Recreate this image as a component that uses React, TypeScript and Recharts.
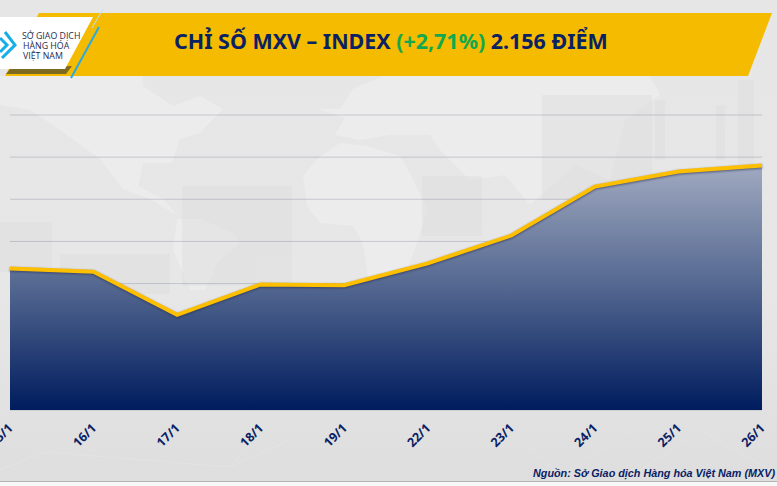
import React from "react";
import { AreaChart, Area, XAxis, YAxis, CartesianGrid } from "recharts";

const dates = ["15/1", "16/1", "17/1", "18/1", "19/1", "22/1", "23/1", "24/1", "25/1", "26/1"];
const index = [2034, 2030, 1979, 2015, 2014, 2040, 2073, 2131, 2149, 2156];
const gridTicks = [1866, 1916, 1966, 2016, 2066, 2116, 2166, 2216];
const data = dates.map((d, i) => ({ d, v: index[i] }));

const NAVY = "#0a2164";
const YELLOW = "#f4bb00";
const LINE = "#fdbf00";
const LAND = "#ececec";

const Backdrop = () => (
  <svg width={777} height={486} style={{ position: "absolute", left: 0, top: 0 }}>
    <defs>
      <linearGradient id="bg" x1="0" y1="0" x2="0" y2="1">
        <stop offset="0" stopColor="#e6e6e6" />
        <stop offset="0.6" stopColor="#e7e7e7" />
        <stop offset="1" stopColor="#dedede" />
      </linearGradient>
    </defs>
    <rect width={777} height={481} fill="url(#bg)" />
    <rect y={481} width={777} height={1} fill="#b5b5b5" />
    <rect y={482} width={777} height={4} fill="#f7f7f7" />
    {/* faint world map: land is lighter than the sea */}
    <g fill={LAND}>
      <path d="M0 76 L143 76 L143 86 L173 106 L200 96 L223 109 L200 133 L180 139 L172 163 L143 163 L138 186 L163 199 L178 216 L150 199 L123 189 L100 159 L60 130 L30 110 L0 105 Z" />
      <path d="M177 219 L200 219 L233 233 L240 243 L218 262 L205 290 L190 290 L173 250 Z" />
      <path d="M303 176 L317 159 L340 143 L367 146 L400 156 L410 173 L427 209 L417 243 L400 290 L370 290 L363 243 L353 226 L320 223 L307 206 Z" />
      <path d="M317 109 L340 109 L353 89 L383 76 L650 76 L660 95 L625 120 L610 180 L575 165 L530 205 L505 175 L470 180 L440 150 L430 135 L390 135 L360 140 L335 135 L345 118 Z" />
      <path d="M640 215 L690 205 L715 240 L680 262 L640 245 Z" />
    </g>
    <g fill="#dedede" opacity={0.45}>
      <rect x={182} y={186} width={110} height={100} />
      <rect x={422} y={176} width={60} height={60} />
      <rect x={542} y={95} width={110} height={105} />
      <rect x={0} y={222} width={52} height={50} />
      <rect x={60} y={254} width={110} height={40} />
      <rect x={655} y={100} width={10} height={60} />
      <rect x={716} y={105} width={9} height={55} />
      <rect x={738} y={80} width={16} height={85} />
    </g>
    <g stroke="#e3e3e3" strokeWidth={1} fill="none">
      <path d="M0 470 L45 452 L230 467 L290 440" />
      <path d="M230 467 L270 420" />
      <path d="M500 420 L560 476 L640 425" />
      <path d="M640 470 L700 430 L770 470" />
    </g>
    {/* header band */}
    <polygon points="39,13 772,13 748,76 5,76" fill={YELLOW} />
    {/* logo card */}
    <polygon points="72,66 66,74 6,74 10,69" fill="#7d6a22" />
    <polygon points="0,17 93,17 65,69 0,69" fill="#ffffff" />
    <line x1={99} y1={27} x2={71} y2={78} stroke="#29abe2" strokeWidth={2} />
    <line x1={103} y1={9} x2={92} y2={28} stroke="#bfe3f2" strokeWidth={1} />
    <g fill="none" stroke="#15aee8" strokeWidth={3}>
      <path d="M5 32 L15 45 L2 58" />
      <path d="M0 38 L7 45 L0 52" />
    </g>
    <g fontFamily="'Open Sans', sans-serif" fontSize={8.8} fill="#1f2a4d">
      <text x={22} y={39}>SỞ GIAO DỊCH</text>
      <text x={23} y={49}>HÀNG HÓA</text>
      <text x={23} y={59}>VIỆT NAM</text>
    </g>
  </svg>
);

const DateTick = ({ x, y, payload }: any) => (
  <text
    x={x + 3.5}
    y={y + 19}
    transform={`rotate(-45 ${x + 3.5} ${y + 19})`}
    textAnchor="end"
    fill={NAVY}
    fontSize={12.5}
    fontWeight={700}
    fontFamily="'Open Sans', sans-serif"
  >
    {payload.value}
  </text>
);

export default function App() {
  return (
    <div style={{ position: "absolute", left: 0, top: 0, width: 777, height: 486, overflow: "hidden" }}>
      <style>{`.recharts-area-curve{filter:drop-shadow(0 1.5px 0.8px rgba(35,45,85,.65));}`}</style>
      <Backdrop />
      <div style={{ position: "absolute", left: 0, top: 0 }}>
        <AreaChart
          width={777}
          height={486}
          data={data}
          margin={{ top: 115, right: 15, bottom: 0, left: 10 }}
        >
          <defs>
            <linearGradient id="fillArea" x1="0" y1="0" x2="0" y2="1">
              <stop offset="0" stopColor="#a0a9c0" />
              <stop offset="0.5" stopColor="#52668f" />
              <stop offset="1" stopColor="#001c5e" />
            </linearGradient>
          </defs>
          <YAxis hide type="number" domain={[1866, 2216]} ticks={gridTicks} />
          <XAxis
            dataKey="d"
            height={76}
            interval={0}
            axisLine={false}
            tickLine={false}
            tickSize={0}
            tickMargin={0}
            tick={<DateTick />}
          />
          <Area
            type="linear"
            dataKey="v"
            baseValue={1866}
            stroke={LINE}
            strokeWidth={4}
            fill="url(#fillArea)"
            fillOpacity={1}
            dot={false}
            activeDot={false}
            isAnimationActive={false}
          />
          <CartesianGrid vertical={false} stroke="#3f4a72" strokeOpacity={0.22} strokeWidth={1} />
        </AreaChart>
      </div>
      <div
        style={{
          position: "absolute",
          left: 174,
          top: 26,
          fontFamily: "'Noto Sans', sans-serif",
          fontWeight: 700,
          fontSize: 21.45,
          lineHeight: "30px",
          color: NAVY,
          whiteSpace: "nowrap",
        }}
      >
        CHỈ SỐ MXV – INDEX <span style={{ color: "#12a84f" }}>(+2,71%)</span> 2.156 ĐIỂM
      </div>
      <div
        style={{
          position: "absolute",
          right: 2,
          top: 465,
          fontFamily: "'Liberation Sans', sans-serif",
          fontWeight: 700,
          fontStyle: "italic",
          fontSize: 10.8,
          lineHeight: "16px",
          color: NAVY,
          whiteSpace: "nowrap",
        }}
      >
        Nguồn: Sở Giao dịch Hàng hóa Việt Nam (MXV)
      </div>
    </div>
  );
}
